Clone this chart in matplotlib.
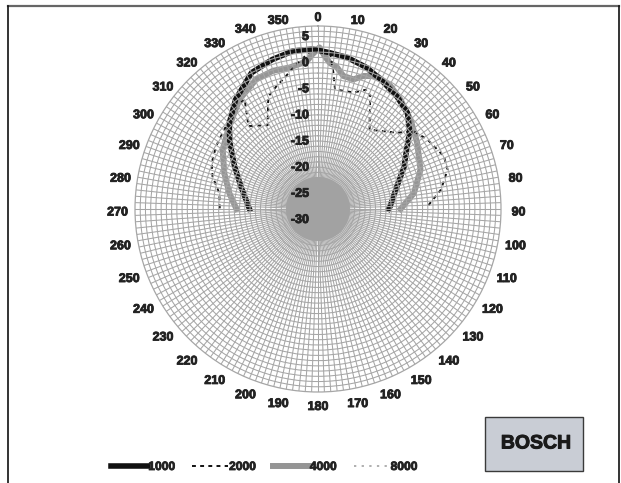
import numpy as np
import matplotlib.pyplot as plt
import matplotlib.patheffects as pe
from matplotlib.lines import Line2D
from matplotlib.patches import Rectangle

plt.rcParams["font.family"] = ["Liberation Sans", "DejaVu Sans"]
plt.rcParams["font.weight"] = "bold"

# ---- data (angle in degrees, clockwise from top; level in dB) ----
ang_1000 = [-90, -74, -63, -53, -46, -37, -26, -17, -9, -2, 4, 11, 19, 26, 35, 43, 50, 55, 64, 74, 88, 90]
db_1000 = [-16.9, -14.7, -12.1, -8.9, -6.4, -3.8, -1.0, -0.1, 0.6, 0.6, 0.0, -0.5, -1.4, -2.5, -3.7,
           -4.9, -7.1, -9.2, -11.7, -14.3, -16.2, -16.5]

ang_2000 = [-89.6, -81, -72.9, -66.6, -58.4, -49.7, -38.5, -33.8, -40, -31, -23.9, -18.7, -15, -9.2,
            -2, 4.4, 6.4, 8.1, 17, 22.3, 24.8, 33, 46, 51, 57.6, 67.3, 73.1, 81.1, 88.8]
db_2000 = [-11.2, -10.9, -8.9, -7.85, -7.1, -6.5, -4.9, -4.8, -9.3, -11.3, -6.5, -5.2, -4.3, -2.3,
           0.6, 0.0, -3.7, -6.9, -6.7, -5.3, -6.2, -11.9, -9.0, -6.4, -5.2, -3.9, -4.1, -6.2, -9.1]

ang_4000 = [-90, -80, -69, -58, -47, -35.6, -25.4, -18, -11.3, -4.4, -2.3, 0.5, 2.6, 4.7, 7.5, 10.8,
            15.3, 18.9, 23.9, 30.5, 37, 46, 56.3, 69, 80.6, 90]
db_4000 = [-14.4, -12.8, -10.8, -8.5, -6.8, -4.2, -2.5, -2.2, -2.4, -1.7, -0.5, 0.9, -0.8, -2.0, -2.6,
           -4.1, -4.3, -3.1, -2.2, -2.7, -3.8, -5.4, -7.2, -9.0, -11.4, -14.2]

ang_8000 = []
db_8000 = []

r_min, r_max = -30, 5
r_labels = [5, 0, -5, -10, -15, -20, -25, -30]
theta_labels = list(range(0, 360, 10))
core_db = -23.9

bold = [pe.withStroke(linewidth=0.6, foreground="#222222")]

fig = plt.figure(figsize=(6.21, 4.83), dpi=100)

# frame
fig.add_artist(Line2D([8 / 621, 619 / 621], [1 - 6 / 483] * 2, color="#666666", lw=1.6))
fig.add_artist(Line2D([8 / 621] * 2, [0, 1 - 6 / 483], color="#111111", lw=1.2))
fig.add_artist(Line2D([619 / 621] * 2, [0, 1 - 6 / 483], color="#111111", lw=1.2))

cx, cy, rad = 318, 209, 183
ax = fig.add_axes([(cx - rad) / 621, 1 - (cy + rad) / 483, 2 * rad / 621, 2 * rad / 483],
                  projection="polar")
ax.set_theta_zero_location("N")
ax.set_theta_direction(-1)
ax.set_ylim(r_min, r_max)
ax.set_xticks(np.deg2rad(np.arange(0, 360, 2)))
ax.set_xticklabels([])
ax.set_yticks(np.arange(r_min + 1, r_max, 1))
ax.set_yticklabels([])
ax.tick_params(length=0)
ax.grid(True, color="#a6a6a6", lw=0.75)
ax.spines["polar"].set_color("#a6a6a6")
ax.spines["polar"].set_linewidth(0.9)
ax.set_axisbelow(False)

# curves
ax.plot(np.deg2rad(ang_4000), db_4000, color="#959595", lw=4.3, zorder=1.4,
        solid_joinstyle="round", label="4000")
ax.plot(np.deg2rad(ang_1000), db_1000, color="#111111", lw=4.0, zorder=1.5,
        solid_joinstyle="round", label="1000")
ax.plot(np.deg2rad(ang_2000), db_2000, color="#111111", lw=1.4, ls=(0, (2.0, 2.2)),
        zorder=1.6, label="2000")
ax.plot(np.deg2rad(ang_8000), db_8000, color="#9a9a9a", lw=1.1, ls=(0, (1.5, 3.5)), label="8000")

# grey core
th = np.linspace(0, 2 * np.pi, 200)
ax.fill(th, np.full_like(th, core_db), color="#a2a2a2", zorder=3, lw=0)

# radial labels
for v in r_labels:
    ax.annotate(str(v), xy=(0, v), xytext=(-9, -11), textcoords="offset pixels",
                ha="right", va="center", fontsize=9, color="#222222", zorder=5,
                annotation_clip=False, path_effects=bold)

# angle labels, placed just outside the rim
for a in theta_labels:
    s = np.sin(np.deg2rad(a))
    c = np.cos(np.deg2rad(a))
    side = 0 if abs(s) < 1e-9 else np.sign(s)
    off = (11.5 * s + 6 * side, 11.5 * c - 3.5)
    ax.annotate(str(a), xy=(np.deg2rad(a), r_max), xytext=off, textcoords="offset pixels",
                ha="center", va="center", fontsize=9, color="#222222",
                annotation_clip=False, path_effects=bold)

# legend
h = {l.get_label(): l for l in ax.get_lines()}
handles = [h["1000"], h["2000"], h["4000"], h["8000"]]
leg = fig.legend(handles, ["1000", "2000", "4000", "8000"], loc="center",
                 bbox_to_anchor=(264.5 / 621, 1 - 467 / 483), ncol=4, frameon=False,
                 fontsize=8.7, handlelength=3.0, handletextpad=0.05, columnspacing=1.4,
                 borderpad=0, borderaxespad=0)
for t in leg.get_texts():
    t.set_color("#222222")
    t.set_path_effects(bold)

# logo box
fig.add_artist(Rectangle((485 / 621, 1 - 471 / 483), 98 / 621, 54 / 483,
                         transform=fig.transFigure, facecolor="#c9cdd5",
                         edgecolor="#3a3a3a", lw=1.0))
fig.text(536 / 621, 1 - 444 / 483, "BOSCH", ha="center", va="center",
         fontsize=14, color="#1a1a1a", weight="bold",
         path_effects=[pe.withStroke(linewidth=0.7, foreground="#1a1a1a")])

fig.savefig("out.png", dpi=100)
